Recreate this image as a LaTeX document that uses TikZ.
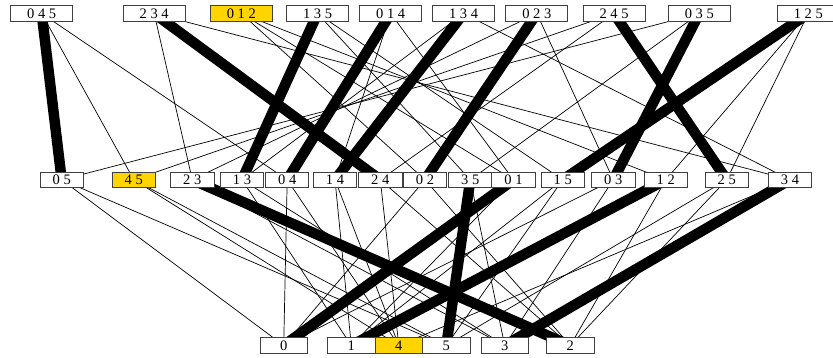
\documentclass[tikz,border=0pt]{standalone}
\usepackage{fontspec}
\setmainfont{Liberation Serif}
\usepackage{xcolor}
\usetikzlibrary{backgrounds}
\definecolor{pickyellow}{RGB}{255,212,0}

\begin{document}
\begin{tikzpicture}[x=1pt, y=-1pt,
    set/.style={draw=black!75, line width=0.8pt, fill=white, rectangle, inner sep=0pt, minimum height=15.6pt, font=\fontsize{14.5}{14.5}\selectfont},
    triple/.style={set, minimum width=62pt},
    pair/.style={set, minimum width=43.3pt, minimum height=15pt},
    single/.style={set, minimum width=47.3pt},
    pick/.style={fill=pickyellow},
    link/.style={line width=0.7pt},
    matched/.style={line width=10.5pt}
]
\useasboundingbox (0,0) rectangle (833,358);

\node[triple] (s045) at (41.7, 13.5) {0 4 5};
\node[triple] (s234) at (154.2, 13.5) {2 3 4};
\node[triple, pick] (s012) at (241.3, 13.5) {0 1 2};
\node[triple] (s135) at (317.5, 13.5) {1 3 5};
\node[triple] (s014) at (390.7, 13.5) {0 1 4};
\node[triple] (s134) at (463.5, 13.5) {1 3 4};
\node[triple] (s023) at (536.8, 13.5) {0 2 3};
\node[triple] (s245) at (614, 13.5) {2 4 5};
\node[triple] (s035) at (699.3, 13.5) {0 3 5};
\node[triple] (s125) at (808.3, 13.5) {1 2 5};

\node[pair] (p05) at (61.7, 179.8) {0 5};
\node[pair, pick] (p45) at (133.8, 179.8) {4 5};
\node[pair] (p23) at (192.3, 179.8) {2 3};
\node[pair] (p13) at (242, 179.8) {1 3};
\node[pair] (p04) at (287.2, 179.8) {0 4};
\node[pair] (p14) at (335, 179.8) {1 4};
\node[pair] (p24) at (380.3, 179.8) {2 4};
\node[pair] (p02) at (425, 179.8) {0 2};
\node[pair] (p35) at (470.3, 179.8) {3 5};
\node[pair] (p01) at (513.5, 179.8) {0 1};
\node[pair] (p15) at (562.7, 179.8) {1 5};
\node[pair] (p03) at (613.3, 179.8) {0 3};
\node[pair] (p12) at (665.8, 179.8) {1 2};
\node[pair] (p25) at (726.7, 179.8) {2 5};
\node[pair] (p34) at (790, 179.8) {3 4};

\node[single] (e0) at (283.7, 345.5) {0};
\node[single] (e1) at (351.3, 345.5) {1};
\node[single, pick] (e4) at (398.8, 345.5) {4};
\node[single] (e5) at (446.3, 345.5) {5};
\node[single] (e3) at (504.7, 345.5) {3};
\node[single] (e2) at (570.3, 345.5) {2};

\begin{pgfonlayer}{background}
\draw[link] (s045.center) -- (p04.center) (s045.center) -- (p45.center);
\draw[link] (s234.center) -- (p23.center) (s234.center) -- (p34.center);
\draw[link] (s012.center) -- (p01.center) (s012.center) -- (p02.center) (s012.center) -- (p12.center);
\draw[link] (s135.center) -- (p15.center) (s135.center) -- (p35.center);
\draw[link] (s014.center) -- (p01.center) (s014.center) -- (p14.center);
\draw[link] (s134.center) -- (p13.center) (s134.center) -- (p34.center);
\draw[link] (s023.center) -- (p03.center) (s023.center) -- (p23.center);
\draw[link] (s245.center) -- (p24.center) (s245.center) -- (p45.center);
\draw[link] (s035.center) -- (p05.center) (s035.center) -- (p35.center);
\draw[link] (s125.center) -- (p12.center) (s125.center) -- (p25.center);

\draw[link] (p05.center) -- (e0.center) (p05.center) -- (e5.center);
\draw[link] (p45.center) -- (e4.center) (p45.center) -- (e5.center);
\draw[link] (p23.center) -- (e3.center);
\draw[link] (p13.center) -- (e1.center) (p13.center) -- (e3.center);
\draw[link] (p04.center) -- (e0.center) (p04.center) -- (e4.center);
\draw[link] (p14.center) -- (e1.center) (p14.center) -- (e4.center);
\draw[link] (p24.center) -- (e2.center) (p24.center) -- (e4.center);
\draw[link] (p02.center) -- (e0.center) (p02.center) -- (e2.center);
\draw[link] (p35.center) -- (e3.center);
\draw[link] (p01.center) -- (e1.center);
\draw[link] (p15.center) -- (e1.center) (p15.center) -- (e5.center);
\draw[link] (p03.center) -- (e0.center) (p03.center) -- (e3.center);
\draw[link] (p12.center) -- (e2.center);
\draw[link] (p25.center) -- (e2.center) (p25.center) -- (e5.center);
\draw[link] (p34.center) -- (e4.center);

\draw[matched] (s045.center) -- (p05.center);
\draw[matched] (s234.center) -- (p24.center);
\draw[matched] (s135.center) -- (p13.center);
\draw[matched] (s014.center) -- (p04.center);
\draw[matched] (s134.center) -- (p14.center);
\draw[matched] (s023.center) -- (p02.center);
\draw[matched] (s245.center) -- (p25.center);
\draw[matched] (s035.center) -- (p03.center);
\draw[matched] (s125.center) -- (p15.center);
\draw[matched] (p23.center) -- (e2.center);
\draw[matched] (p35.center) -- (e5.center);
\draw[matched] (p01.center) -- (e0.center);
\draw[matched] (p12.center) -- (e1.center);
\draw[matched] (p34.center) -- (e3.center);
\end{pgfonlayer}

\end{tikzpicture}
\end{document}
